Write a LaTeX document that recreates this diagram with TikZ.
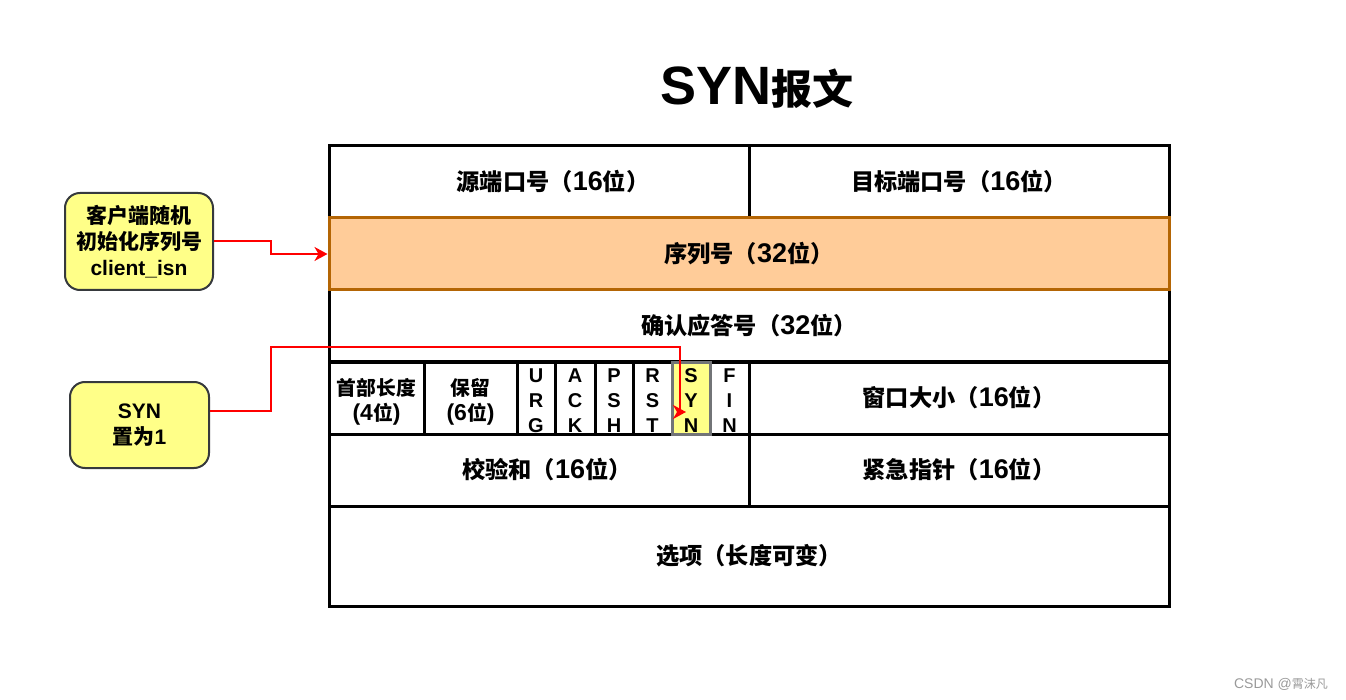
\documentclass[tikz,border=0pt]{standalone}
\usepackage{fontspec}
\setmainfont{Liberation Sans}
\newfontfamily\zhfam{Noto Sans CJK SC}[Scale=0.86]
\newfontfamily\zhBfam{Noto Sans CJK SC}
\newfontfamily\zhTfam{Noto Sans CJK SC}[Scale=0.76]
\newcommand\zh[1]{{\zhfam #1}}
\newcommand\zhB[1]{{\zhBfam #1}}
\newcommand\zhT[1]{{\zhTfam #1}}
\usetikzlibrary{arrows.meta}
\definecolor{orangefill}{HTML}{FFCC99}
\definecolor{orangeline}{HTML}{B46504}
\definecolor{yelfill}{HTML}{FFFF88}
\definecolor{yelline}{HTML}{36393D}
\definecolor{redline}{HTML}{FF0000}
\definecolor{wmgray}{HTML}{999999}
\begin{document}
\begin{tikzpicture}[x=1pt,y=-1pt,
  cell/.style={draw=black,line width=3pt,fill=white,inner sep=0pt,align=center,
    font=\bfseries\fontsize{27}{32}\selectfont},
  fcell/.style={draw=black,line width=3pt,fill=white,inner sep=0pt,align=center,
    minimum height=72pt,text height=49pt,text depth=5pt,
    font=\bfseries\fontsize{23}{25}\selectfont},
  flag/.style={draw=black,line width=3pt,fill=white,inner sep=0pt,align=center,
    minimum height=72pt,text height=68pt,text depth=0pt,
    font=\bfseries\fontsize{20}{25}\selectfont},
  note/.style={draw=yelline,line width=2pt,fill=yelfill,rounded corners=15pt,
    inner sep=0pt,align=center,font=\bfseries\fontsize{21}{26}\selectfont},
  redarrow/.style={draw=redline,line width=2pt,
    -{Stealth[length=13pt,width=14pt,inset=4pt]}}]
\useasboundingbox (0,0) rectangle (1346,700);

% title
\node[font=\bfseries\fontsize{54}{60}\selectfont] (title) at (757,88) {SYN\zhT{报文}};

% table
\node[cell,minimum width=420pt,minimum height=72pt] (src) at (539,182) {\hspace*{28pt}\zh{源端口号（}16\zh{位）}};
\node[cell,minimum width=420pt,minimum height=72pt] (dst) at (959,182) {\zh{目标端口号（}16\zh{位）}};
\node[cell,minimum width=840pt,minimum height=72pt] (ack) at (749,326) {\zh{确认应答号（}32\zh{位）}};
\node[fcell,minimum width=95pt] (hdr) at (376.5,398) {\zh{首部长度}\\(4\zh{位})};
\node[fcell,minimum width=93pt] (rsv) at (470.5,398) {\zh{保留}\\(6\zh{位})};
\node[flag,minimum width=38pt] (furg) at (536,398) {U\\R\\G};
\node[flag,minimum width=40pt] (fack) at (575,398) {A\\C\\K};
\node[flag,minimum width=38pt] (fpsh) at (614,398) {P\\S\\H};
\node[flag,minimum width=39pt] (frst) at (652.5,398) {R\\S\\T};
\node[flag,minimum width=39pt] (ffin) at (729.5,398) {F\\I\\N};
\node[cell,minimum width=420pt,minimum height=72pt] (win) at (959,398) {\zh{窗口大小（}16\zh{位）}};
\node[cell,minimum width=420pt,minimum height=72pt] (chk) at (539,470) {\hspace*{16pt}\zh{校验和（}16\zh{位）}};
\node[cell,minimum width=420pt,minimum height=72pt] (urp) at (959,470) {\zh{紧急指针（}16\zh{位）}};
\node[cell,minimum width=840pt,minimum height=100pt] (opt) at (749,556) {\zh{选项（长度可变）}};
\node[cell,fill=orangefill,draw=orangeline,minimum width=840pt,minimum height=72pt] (seq) at (749,254) {\zh{序列号（}32\zh{位）}};
\node[flag,fill=yelfill,draw=yelline!70,minimum width=38pt] (fsyn) at (691,398) {S\\Y\\N};

% notes
\node[note,minimum width=148pt,minimum height=97pt] (n1) at (139,241.5)
  {\zhB{客户端随机}\\\zhB{初始化序列号}\\client\_isn};
\node[note,minimum width=139pt,minimum height=86pt] (n2) at (139.5,425)
  {SYN\\\zhB{置为}1};

% connectors
\coordinate (k1) at (271,0);
\coordinate (k2) at (271,347);
\coordinate (k3) at (680,347);
\coordinate (synend) at (686,412);
\draw[redarrow] (n1.east) -- (n1.east -| k1) |- (seq.west);
\draw[redarrow] ([yshift=14pt]n2.east) -| (k2) -- (k3) |- (synend);

% watermark
\node[text=wmgray,font=\fontsize{14}{16}\selectfont] (wm) at (1281,684) {CSDN @\zh{霄沫凡}};
\end{tikzpicture}
\end{document}
